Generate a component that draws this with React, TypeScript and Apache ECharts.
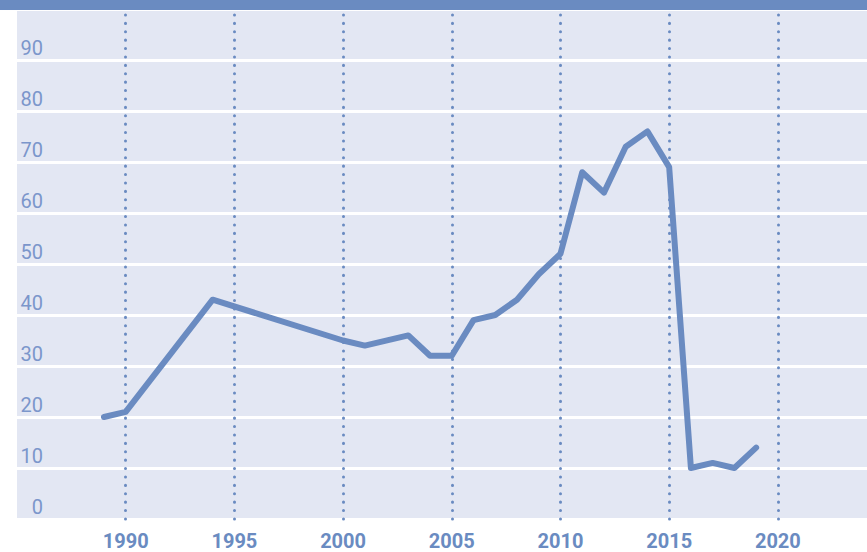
import React, { useEffect, useRef } from "react";
import * as echarts from "echarts";

const years = [1989, 1990, 1994, 2000, 2001, 2003, 2004, 2005, 2006, 2007, 2008, 2009, 2010, 2011, 2012, 2013, 2014, 2015, 2016, 2017, 2018, 2019];
const values = [20, 21, 43, 35, 34, 36, 32, 32, 39, 40, 43, 48, 52, 68, 64, 73, 76, 69, 10, 11, 10, 14];
const gridYears = [1990, 1995, 2000, 2005, 2010, 2015, 2020];

const LINE = "#6a8bc1";
const BG = "#e3e7f3";
const YLABEL = "#7b96cb";

export default function App() {
  const ref = useRef<HTMLDivElement>(null);
  useEffect(() => {
    if (!ref.current) return;
    const chart = echarts.init(ref.current, undefined, { renderer: "svg" });
    chart.setOption({
      animation: false,
      backgroundColor: "#ffffff",
      grid: {
        left: 17,
        right: 0,
        top: 9,
        bottom: 33,
        show: true,
        backgroundColor: BG,
        borderWidth: 0,
      },
      graphic: [
        {
          type: "rect",
          left: 0,
          top: 0,
          z: 100,
          shape: { x: 0, y: 0, width: 867, height: 10 },
          style: { fill: LINE },
        },
      ],
      xAxis: {
        type: "value",
        min: 1985,
        max: 2024.1,
        interval: 5,
        axisLine: { show: false },
        axisTick: { show: false },
        splitLine: { show: false },
        axisLabel: {
          showMinLabel: false,
          showMaxLabel: false,
          margin: 12,
          lineHeight: 20,
          color: LINE,
          fontFamily: "Roboto",
          fontWeight: "bold",
          fontSize: 20,
          formatter: (v: number) => (v % 5 === 0 && v > 1985 && v < 2024 ? String(v) : ""),
        },
      },
      yAxis: {
        type: "value",
        min: 0,
        max: 100,
        interval: 10,
        axisLine: { show: false },
        axisTick: { show: false },
        splitLine: { show: true, lineStyle: { color: "#ffffff", width: 3 } },
        axisLabel: {
          inside: true,
          align: "right",
          verticalAlign: "bottom",
          margin: 26,
          padding: [0, 0, 2, 0],
          color: YLABEL,
          fontFamily: "Roboto",
          fontSize: 20,
          showMaxLabel: false,
        },
      },
      series: [
        {
          type: "line",
          data: years.map((y, i) => [y, values[i]]),
          showSymbol: false,
          symbol: "none",
          lineStyle: { color: LINE, width: 6, cap: "round", join: "round" },
          z: 3,
          markLine: {
            silent: true,
            symbol: ["none", "none"],
            label: { show: false },
            lineStyle: { color: LINE, width: 3, type: [0.1, 8.3], cap: "round" },
            data: gridYears.map((y) => ({ xAxis: y })),
          },
        },
      ],
    });
    return () => chart.dispose();
  }, []);
  return (
    <div
      ref={ref}
      style={{ position: "fixed", left: 0, top: 0, width: 867, height: 552 }}
    />
  );
}
